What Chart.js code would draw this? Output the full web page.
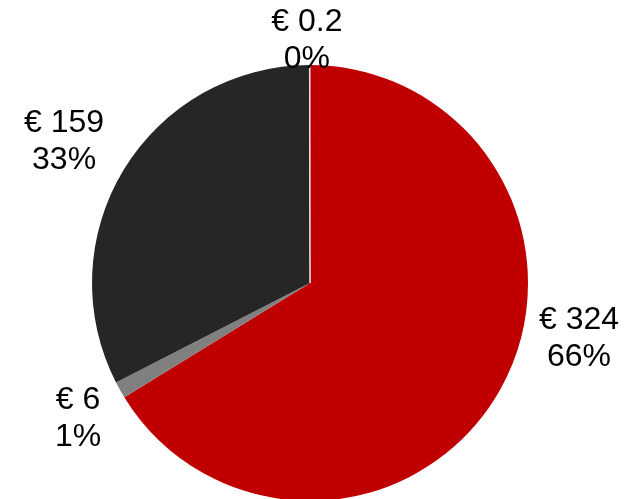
<!DOCTYPE html>
<html>
<head>
<meta charset="utf-8">
<script src="https://cdn.jsdelivr.net/npm/chart.js@4"></script>
<style>
  html, body { margin: 0; padding: 0; background: #fff; }
  #wrap { width: 633px; height: 499px; }
</style>
</head>
<body>
<div id="wrap"><canvas id="pie"></canvas></div>
<script>
// cost split, in euro
const categories = ["Segment A", "Segment B", "Segment C", "Segment D"];
const amounts = [324, 6, 159, 0.2];
const sliceColors = ["#c00000", "#808080", "#262626", "#e6e6e6"];

const total = amounts.reduce((a, b) => a + b, 0);

// two-line labels: "€ value" over "pct%", placed around the pie
const pieLabels = {
  id: "pieLabels",
  afterDatasetsDraw(chart, args, opts) {
    const ctx = chart.ctx;
    const meta = chart.getDatasetMeta(0);
    ctx.save();
    ctx.font = opts.font;
    ctx.fillStyle = opts.color;
    ctx.textAlign = "center";
    ctx.textBaseline = "middle";
    meta.data.forEach((arc, i) => {
      const { x, y, outerRadius } = arc.getProps(["x", "y", "outerRadius"], true);
      const off = opts.offsets[i];
      const cx = x + off[0] * outerRadius;
      const cy = y + off[1] * outerRadius;
      const v = amounts[i];
      const pct = Math.round((v / total) * 100);
      ctx.fillText("€ " + v, cx, cy - opts.lineHeight / 2);
      ctx.fillText(pct + "%", cx, cy + opts.lineHeight / 2);
    });
    ctx.restore();
  },
};

new Chart(document.getElementById("pie"), {
  type: "pie",
  data: {
    labels: categories,
    datasets: [
      {
        data: amounts,
        backgroundColor: sliceColors,
        // only the sliver gets an outline so it stays visible
        borderColor: "#e6e6e6",
        borderWidth: [0, 0, 0, 1],
        radius: 218,
        clip: false,
      },
    ],
  },
  options: {
    responsive: true,
    maintainAspectRatio: false,
    animation: false,
    layout: { padding: { left: 0, right: 13, top: 67, bottom: 0 } },
    plugins: {
      legend: { display: false },
      tooltip: { enabled: false },
      pieLabels: {
        font: '32px "Liberation Sans", Arial, sans-serif',
        color: "#000000",
        lineHeight: 37,
        // label centres, in units of the pie radius from its centre
        offsets: [
          [1.234, 0.257],
          [-1.064, 0.622],
          [-1.128, -0.649],
          [-0.014, -1.11],
        ],
      },
    },
  },
  plugins: [pieLabels],
});
</script>
</body>
</html>
